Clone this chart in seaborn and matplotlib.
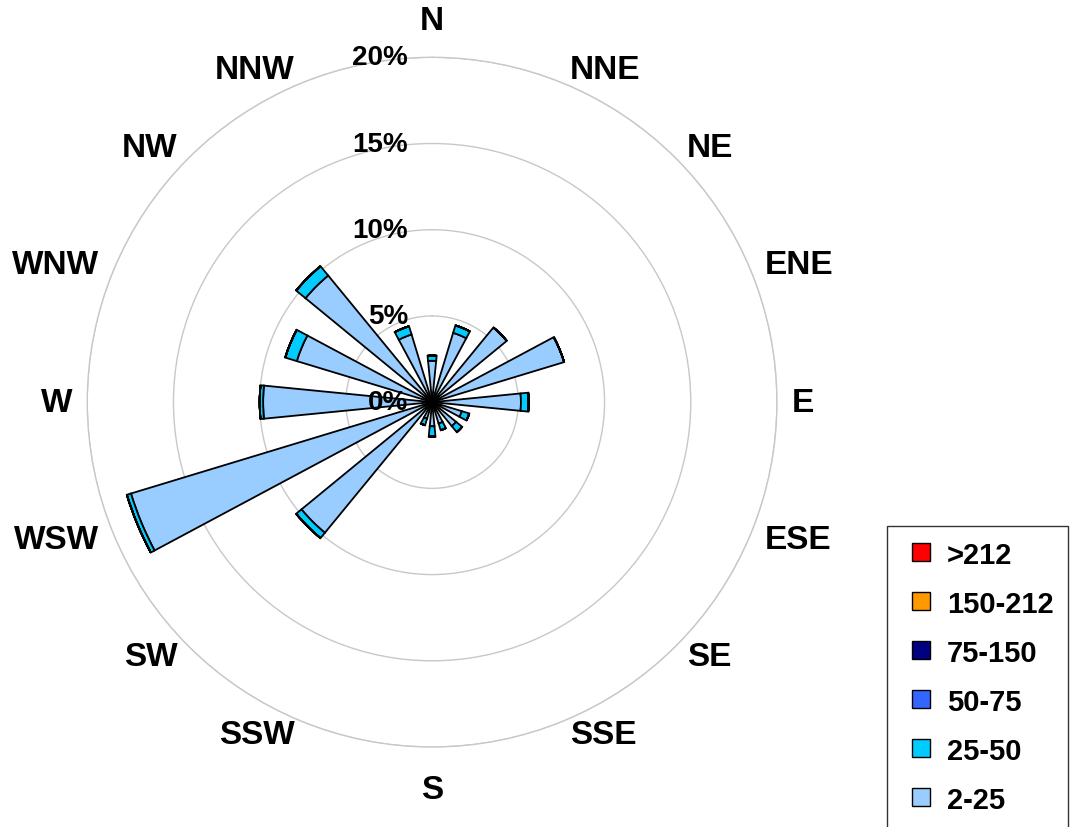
import seaborn as sns
import matplotlib.pyplot as plt
import matplotlib.transforms as mtransforms
from matplotlib.lines import Line2D
import numpy as np

directions = ['N', 'NNE', 'NE', 'ENE', 'E', 'ESE', 'SE', 'SSE',
              'S', 'SSW', 'SW', 'WSW', 'W', 'WNW', 'NW', 'NNW']
bins = ['2-25', '25-50', '50-75', '75-150', '150-212', '>212']
bin_colors = ['#99CCFF', '#00CCFF', '#3366FF', '#000080', '#FF9900', '#FF0000']

# percent frequency per direction for each speed bin
v_2_25 = [2.4, 4.2, 5.6, 8.0, 5.15, 1.8, 1.8, 1.3, 1.4, 1.0, 9.8, 18.25, 9.8, 8.2, 9.5, 4.1]
v_25_50 = [0.3, 0.45, 0.0, 0.0, 0.45, 0.45, 0.45, 0.4, 0.6, 0.4, 0.4, 0.25, 0.2, 0.7, 0.7, 0.5]
v_50_75 = [0.0] * 16
v_75_150 = [0.0] * 16
v_150_212 = [0.0] * 16
v_212 = [0.0] * 16
series = [v_2_25, v_25_50, v_50_75, v_75_150, v_150_212, v_212]

ring_values = [5, 10, 15, 20]
ring_labels = ['5%', '10%', '15%', '20%']

sns.set_theme(style='white')
plt.rcParams['font.family'] = ['Liberation Sans', 'DejaVu Sans']
plt.rcParams['text.color'] = 'black'

fig = plt.figure(figsize=(10.8, 8.28), dpi=100)
ax = fig.add_axes([0.0806, 0.0966, 0.639, 0.833], projection='polar')
ax.set_theta_zero_location('N')
ax.set_theta_direction(-1)

theta = np.deg2rad(np.arange(len(directions)) * 22.5)
width = np.deg2rad(11.25)

bottom = np.zeros(len(directions))
for name, vals, col in zip(bins, series, bin_colors):
    vals = np.array(vals)
    ax.bar(theta, vals, width=width, bottom=bottom, color=col,
           edgecolor='black', linewidth=1.3, label=name, zorder=3)
    bottom = bottom + vals

ax.set_ylim(0, 20)
ax.set_yticks(ring_values)
ax.set_yticklabels([])
ax.set_xticks([])
ax.grid(True, color='#C8C8C8', linewidth=1.0)
ax.xaxis.grid(False)
ax.spines['polar'].set_color('#C8C8C8')
ax.spines['polar'].set_linewidth(1.0)

# radial labels to the left of the north axis
off = mtransforms.offset_copy(ax.transData, fig=fig, x=-24, y=0, units='dots')
for r, lab in zip([0] + ring_values, ['0%'] + ring_labels):
    ax.text(0, r, lab, transform=off, ha='right', va='center',
            fontsize=20, fontweight='bold', color='black', zorder=10)

# direction labels, anchored just outside the outer ring
center = ax.transAxes
for t, d in zip(theta, directions):
    s, c = np.sin(t), np.cos(t)
    if abs(s) < 0.1:
        ha = 'center'
        va = 'bottom' if c > 0 else 'top'
        rad = 366 if c > 0 else 372
    else:
        ha = 'left' if s > 0 else 'right'
        va = 'center'
        rad = 360
    tr = mtransforms.offset_copy(center, fig=fig, x=rad * s, y=rad * c, units='dots')
    ax.text(0.5, 0.5, d, transform=tr, ha=ha, va=va, fontsize=24,
            fontweight='bold', color='black')

handles = [Line2D([], [], linestyle='none', marker='s', markersize=13,
                  markerfacecolor=col, markeredgecolor='black', markeredgewidth=1.0)
           for col in bin_colors]
leg = fig.legend(handles[::-1], bins[::-1], loc='upper left',
                 bbox_to_anchor=(887 / 1080, 1 - 527 / 828),
                 frameon=True, fancybox=False, edgecolor='black',
                 prop={'size': 21, 'weight': 'bold'}, labelspacing=0.72,
                 handlelength=1.35, handletextpad=0.2,
                 borderpad=0.5, borderaxespad=0, labelcolor='black')
leg.get_frame().set_linewidth(1.0)

fig.savefig('out.png', dpi=100)
